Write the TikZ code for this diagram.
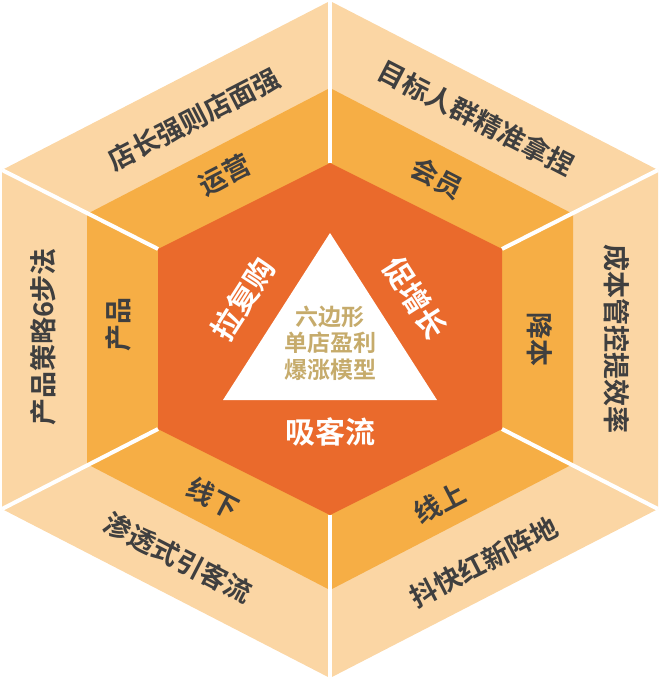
\documentclass[tikz,border=0pt]{standalone}
\usepackage{fontspec}
\setmainfont{Noto Sans CJK SC}[BoldFont={Noto Sans CJK SC Bold}]
\usepackage{tikz}
\usetikzlibrary{positioning, calc}
\definecolor{lightor}{HTML}{FBD6A4}
\definecolor{midor}{HTML}{F6AE45}
\definecolor{darkor}{HTML}{EA6A2C}
\definecolor{goldtxt}{HTML}{C6AB6B}
\definecolor{graytxt}{HTML}{3F3F3F}
\tikzset{%
    sepsty/.style={
        draw=white,
        line width=4pt,
    },
    txtsty/.style={
        inner sep=0pt,
        text=graytxt,
        font=\bfseries\fontsize{27}{27}\selectfont,
    },
    insty/.style={
        txtsty,
        text=white,
        font=\bfseries\fontsize{30}{30}\selectfont,
    },
    tristy/.style={
        inner sep=0pt,
        align=center,
        text=goldtxt,
        font=\bfseries\fontsize{23}{26.5}\selectfont,
    },
}

\begin{document}
\begin{tikzpicture}[x=1pt,y=-1pt]
\useasboundingbox (0,0) rectangle (660,679);

% hexagon corners
\coordinate (o1) at (330,1);   \coordinate (o2) at (658,170);
\coordinate (o3) at (658,509); \coordinate (o4) at (330,678);
\coordinate (o5) at (2,509);   \coordinate (o6) at (2,170);
\coordinate (m1) at (330,88);  \coordinate (m2) at (573,214);
\coordinate (m3) at (573,464); \coordinate (m4) at (330,590);
\coordinate (m5) at (87,464);  \coordinate (m6) at (87,214);
\coordinate (i1) at (330,163); \coordinate (i2) at (502,249);
\coordinate (i3) at (502,429); \coordinate (i4) at (330,515);
\coordinate (i5) at (158,429); \coordinate (i6) at (158,249);

% rings
\fill[lightor] (o1) -- (o2) -- (o3) -- (o4) -- (o5) -- (o6) -- cycle;
\fill[midor] (m1) -- (m2) -- (m3) -- (m4) -- (m5) -- (m6) -- cycle;
\fill[darkor] (i1) -- (i2) -- (i3) -- (i4) -- (i5) -- (i6) -- cycle;
\foreach \k in {1,...,6}
    \draw[sepsty] (o\k) -- (i\k);

% centre triangle
\coordinate (t1) at (330,233);
\coordinate (t2) at (437,400);
\coordinate (t3) at (223,400);
\fill[white] (t1) -- (t2) -- (t3) -- cycle;
\node (core) [tristy] at (330,343) {六边形\\单店盈利\\爆涨模型};

% inner labels
\node (rebuy) [insty,rotate=57.4] at (243,299) {拉复购};
\node (grow) [insty,rotate=-57.4] at (415,298) {促增长};
\node (flow) [insty] at (330,432) {吸客流};

% middle ring labels
\node (ops) [txtsty,rotate=27.3] at (225,175) {运营};
\node (vip) [txtsty,rotate=-27.3] at (437,178) {会员};
\node (cost) [txtsty,rotate=-90] at (540,339) {降本};
\node (prod) [txtsty,rotate=90] at (118,324) {产品};
\node (offl) [txtsty,rotate=-27.3] at (213,498) {线下};
\node (onl) [txtsty,rotate=27.3] at (440,503) {线上};

% outer ring labels
\node (opsx) [txtsty,rotate=27.3] at (194,119) {店长强则店面强};
\node (vipx) [txtsty,rotate=-27.3] at (476,118) {目标人群精准拿捏};
\node (costx) [txtsty,rotate=-90] at (617,339) {成本管控提效率};
\node (prodx) [txtsty,rotate=90] at (43,337) {产品策略6步法};
\node (offlx) [txtsty,rotate=-27.3] at (178,558) {渗透式引客流};
\node (onlx) [txtsty,rotate=27.3] at (484,562) {抖快红新阵地};

\end{tikzpicture}
\end{document}
